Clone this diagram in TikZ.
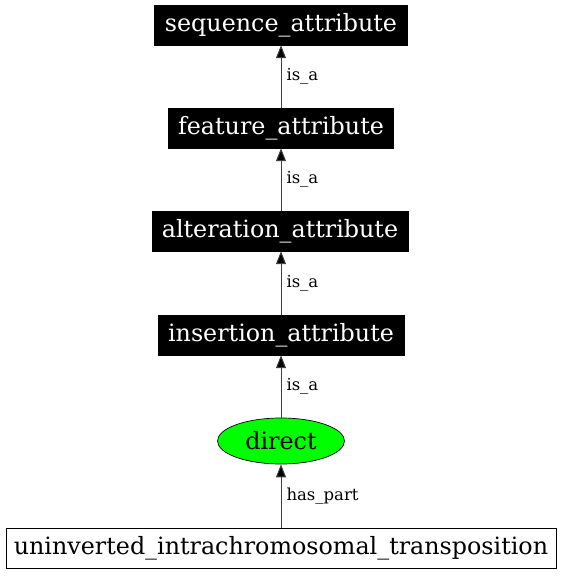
\documentclass[tikz,border=0pt]{standalone}
\usepackage{fontspec}
\setmainfont{DejaVu Serif}
\usetikzlibrary{arrows.meta,shapes.geometric}
\tikzset{
  nodefont/.style={font=\fontsize{23.8}{28}\selectfont},
  blackbox/.style={draw=black, fill=black, text=white, minimum height=40pt, inner sep=0pt, nodefont},
  whitebox/.style={draw=black, line width=0.9pt, fill=white, minimum height=40pt, inner sep=0pt, nodefont},
  greenell/.style={ellipse, draw=black, line width=0.7pt, fill=green!100, minimum width=127pt, minimum height=46pt, inner sep=0pt, nodefont},
  conn/.style={draw=black!75, line width=1pt, -{Triangle[length=13pt,width=10pt,fill=black]}},
  elabel/.style={font=\fontsize{16.5}{19}\selectfont, anchor=west, inner sep=0pt}
}
\begin{document}
\begin{tikzpicture}[x=1pt,y=1pt]
\useasboundingbox (0,0) rectangle (562,-576);
\node[blackbox, minimum width=253pt] (seq) at (281,-25) {sequence\_attribute};
\node[blackbox, minimum width=225pt] (feat) at (281,-128) {feature\_attribute};
\node[blackbox, minimum width=256pt] (alt) at (280,-231) {alteration\_attribute};
\node[blackbox, minimum width=246pt] (ins) at (281,-335) {insertion\_attribute};
\node[greenell] (dir) at (281,-441) {direct};
\node[whitebox, minimum width=550pt] (uit) at (281,-548) {uninverted\_intrachromosomal\_transposition};
\draw[conn] (feat) -- node[elabel, xshift=5pt] {is\_a} (seq);
\draw[conn] (alt.north -| feat) -- node[elabel, xshift=5pt] {is\_a} (feat);
\draw[conn] (ins) -- node[elabel, xshift=5pt] {is\_a} (alt.south -| ins);
\draw[conn] (dir) -- node[elabel, xshift=5pt] {is\_a} (ins);
\draw[conn] (uit) -- node[elabel, xshift=5pt] {has\_part} (dir);
\end{tikzpicture}
\end{document}
